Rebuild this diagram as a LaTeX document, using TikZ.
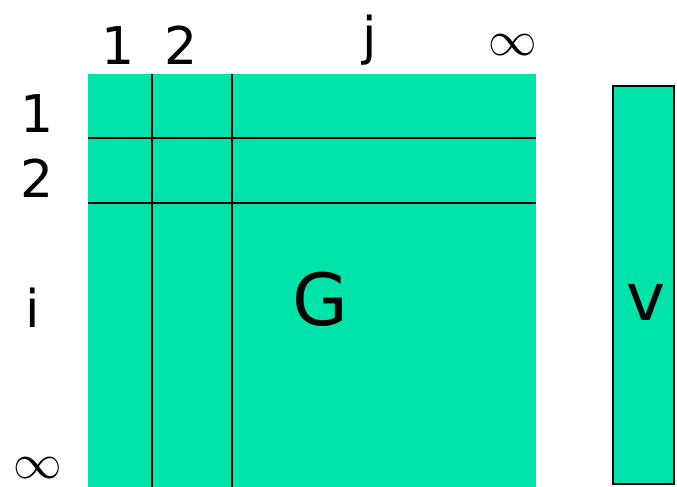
\documentclass[tikz,border=0pt]{standalone}
\usepackage{fontspec}
\setmainfont{DejaVu Sans}
\definecolor{mgreen}{RGB}{0,227,170}
\newcommand{\biginf}{\scalebox{1.95}{\fontsize{24}{26}\selectfont$\infty$}}
\begin{document}
\begin{tikzpicture}[x=1pt,y=-1pt,
  lab/.style={anchor=base,inner sep=0pt,font=\fontsize{52}{60}\selectfont},
  big/.style={anchor=base,inner sep=0pt,font=\fontsize{72}{80}\selectfont},
  inf/.style={inner sep=0pt},
  grid/.style={line width=2.8pt,black}]
\useasboundingbox (0,0) rectangle (677,487);
\fill[mgreen] (88,74) rectangle (536,487);
\draw[grid] (152,74) -- (152,487);
\draw[grid] (232,74) -- (232,487);
\draw[grid] (88,138) -- (536,138);
\draw[grid] (88,203) -- (536,203);
\draw[fill=mgreen,line width=2.8pt] (613,86) rectangle (674,484);
\node[lab] (c1) at (118,65) {1};
\node[lab] (c2) at (181,65) {2};
\node[lab] (cj) at (370,55) {j};
\node[inf] (cinf) at (513,45) {\biginf};
\node[lab] (r1) at (37,132) {1};
\node[lab] (r2) at (37,197) {2};
\node[lab] (ri) at (33,327) {i};
\node[inf] (rinf) at (38,468) {\biginf};
\node[big] (G) at (320,325) {G};
\node[big,font=\fontsize{66}{72}\selectfont] (v) at (646,320) {v};
\end{tikzpicture}
\end{document}
